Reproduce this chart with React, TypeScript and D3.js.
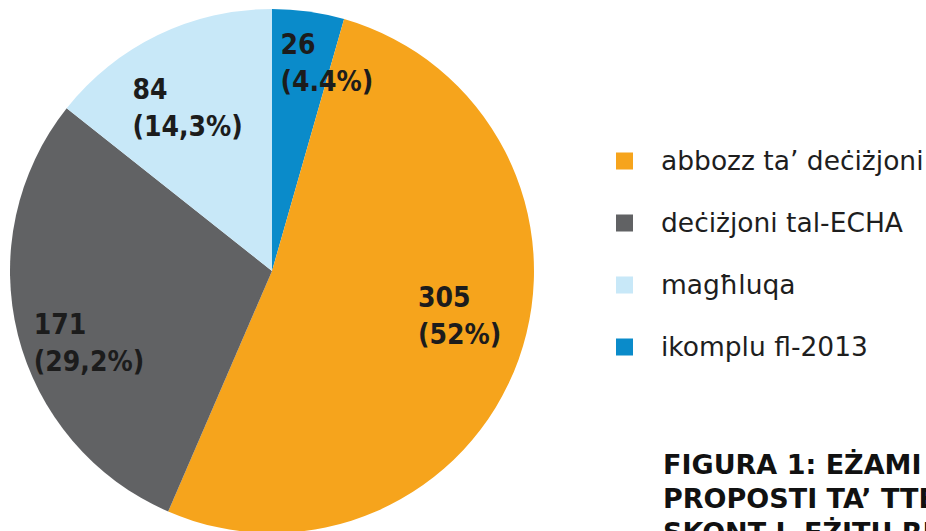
import React, { useEffect, useRef } from 'react';
import * as d3 from 'd3';

const categories = ['ikomplu fl-2013', 'abbozz ta’ deċiżjoni', 'deċiżjoni tal-ECHA', 'magħluqa'];
const counts = [26, 305, 171, 84];
const percentLabels = ['(4.4%)', '(52%)', '(29,2%)', '(14,3%)'];
const colors = ['#0a8bca', '#f6a41c', '#616264', '#c8e8f8'];
const legendOrder = ['abbozz ta’ deċiżjoni', 'deċiżjoni tal-ECHA', 'magħluqa', 'ikomplu fl-2013'];
const titleLines = ['FIGURA 1: EŻAMI DWAR', 'PROPOSTI TA’ TTESTJAR', 'SKONT L-EŻITU RIŻULTANT'];

const W = 926;
const H = 531;

// small hand nudges so the slice labels sit where the printed figure puts them
const labelNudge: Record<string, [number, number]> = {
    'ikomplu fl-2013': [25, 5],
    'abbozz ta’ deċiżjoni': [5, -20],
    'deċiżjoni tal-ECHA': [5, 25],
    'magħluqa': [0, 12]
};

const App: React.FC = () => {
    const svgRef = useRef<SVGSVGElement>(null);

    useEffect(() => {
        if (!svgRef.current) return;
        const svg = d3.select(svgRef.current);
        svg.selectAll('*').remove();

        const cx = 272;
        const cy = 271;
        const R = 262;

        const data = categories.map((c, i) => ({ name: c, value: counts[i], pct: percentLabels[i], color: colors[i] }));
        const total = d3.sum(counts);

        const pie = d3.pie<typeof data[0]>().value(d => d.value).sort(null);
        const arc = d3.arc<d3.PieArcDatum<typeof data[0]>>().innerRadius(0).outerRadius(R);

        const g = svg.append('g').attr('transform', `translate(${cx},${cy})`);
        const arcs = pie(data);

        g.selectAll('path')
            .data(arcs)
            .enter()
            .append('path')
            .attr('d', arc)
            .attr('fill', d => d.data.color);

        // labels: two lines, left aligned, centred on the slice centroid
        arcs.forEach(a => {
            const frac = a.data.value / total;
            const lr = frac < 0.1 ? R * 0.82 : R * 0.74;
            const [lx, ly] = d3.arc<any>().innerRadius(lr).outerRadius(lr).centroid(a);
            const [nx, ny] = labelNudge[a.data.name] || [0, 0];
            const t = g.append('text')
                .attr('font-family', '"DejaVu Sans Condensed", "DejaVu Sans", sans-serif')
                .attr('font-weight', 'bold')
                .attr('font-size', 28)
                .attr('fill', '#1c1c1c');
            t.append('tspan').attr('x', 0).attr('y', 0).text(String(a.data.value));
            t.append('tspan').attr('x', 0).attr('y', 37).text(a.data.pct);
            const bb = (t.node() as SVGTextElement).getBBox();
            t.attr('transform', `translate(${lx - bb.x - bb.width / 2 + nx},${ly - bb.y - bb.height / 2 + ny})`);
        });

        // legend
        const legendY = d3.scalePoint<string>().domain(legendOrder).range([161, 347]);
        const lg = svg.append('g');
        legendOrder.forEach(name => {
            const i = categories.indexOf(name);
            const y = legendY(name) as number;
            lg.append('rect')
                .attr('x', 616)
                .attr('y', y - 8.5)
                .attr('width', 17)
                .attr('height', 17)
                .attr('fill', colors[i]);
            lg.append('text')
                .attr('x', 661)
                .attr('y', y + 9)
                .attr('font-family', '"DejaVu Sans", Verdana, sans-serif')
                .attr('font-size', 26.5)
                .attr('fill', '#1e1e1e')
                .text(name);
        });

        // title (runs past the right and bottom edge, as in the source)
        const tt = svg.append('text')
            .attr('font-family', '"DejaVu Sans", Verdana, sans-serif')
            .attr('font-weight', 'bold')
            .attr('font-size', 27)
            .attr('fill', '#111');
        titleLines.forEach((line, i) => {
            tt.append('tspan').attr('x', 663).attr('y', 474 + i * 34).text(line);
        });
    }, []);

    return (
        <div style={{ position: 'absolute', left: 0, top: 0, width: W, height: H, overflow: 'hidden', background: '#fff' }}>
            <svg ref={svgRef} width={W} height={H} style={{ display: 'block' }}></svg>
        </div>
    );
};

export default App;
